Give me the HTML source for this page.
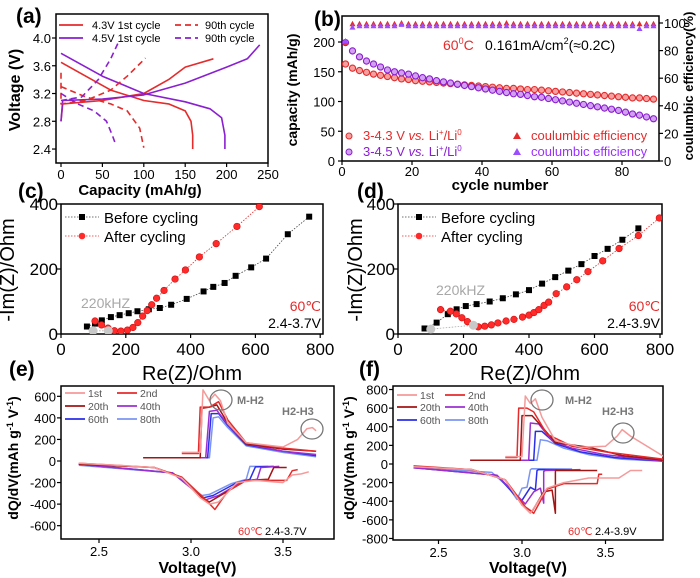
<!DOCTYPE html>
<html><head><meta charset="utf-8"><style>
html,body{margin:0;padding:0;background:#fff;}
svg{display:block;font-family:"Liberation Sans",Arial,sans-serif;}
</style></head><body>
<svg id="fig" width="700" height="578" viewBox="0 0 700 578" xmlns="http://www.w3.org/2000/svg">
<defs>
<clipPath id="clipA"><rect x="56" y="14" width="212" height="149"/></clipPath>
<clipPath id="clipB"><rect x="342" y="16" width="317" height="145"/></clipPath>
<clipPath id="clipC"><rect x="61" y="204" width="262" height="130"/></clipPath>
<clipPath id="clipD"><rect x="398" y="204" width="264" height="130"/></clipPath>
<clipPath id="clipE"><rect x="61" y="386" width="273" height="153"/></clipPath>
<clipPath id="clipF"><rect x="393" y="386" width="270" height="154"/></clipPath>
</defs>
</svg>
<script>
// ---------- data ----------
// panel (a): [capacity mAh/g, voltage V]
const a43FirstCharge=[[0,2.8],[2,3.05],[50,3.1],[100,3.2],[130,3.4],[150,3.58],[184,3.7]];
const a43FirstDischarge=[[0,3.65],[30,3.45],[60,3.25],[100,3.1],[130,3.05],[150,2.95],[157,2.8],[159,2.6],[159,2.4]];
const a45FirstCharge=[[0,2.8],[2,3.1],[50,3.12],[100,3.18],[150,3.35],[200,3.58],[225,3.7],[240,3.9]];
const a45FirstDischarge=[[0,3.78],[50,3.45],[100,3.2],[150,3.08],[180,2.98],[194,2.85],[198,2.6],[198,2.4]];
const a43NinetyCharge=[[0,3.5],[0,3.05],[30,3.1],[60,3.25],[80,3.45],[102,3.71]];
const a43NinetyDischarge=[[0,3.3],[30,3.15],[60,3.05],[80,2.95],[95,2.7],[100,2.42]];
const a45NinetyCharge=[[0,3.1],[25,3.15],[45,3.4],[60,3.7],[69,3.93]];
const a45NinetyDischarge=[[0,3.2],[20,3.05],[40,2.95],[55,2.8],[62,2.6],[65,2.5]];
const aXTicks=[0,50,100,150,200,250];
const aYTicks=[2.4,2.8,3.2,3.6,4.0];
// panel (b): every second cycle
const bCycles=[1,3,5,7,9,11,13,15,17,19,21,23,25,27,29,31,33,35,37,39,41,43,45,47,49,51,53,55,57,59,61,63,65,67,69,71,73,75,77,79,81,83,85,87,89];
const bCap43=[163,156,152,149,146,144,142,140,138,137,135,134,133,132,131,130,129,128,127,126,125,124,123,122,122,121,120,120,119,118,117,116,115,114,113,112,111,110,109,108,107,106,106,105,104];
const bCap45=[199,185,175,168,163,158,153,150,148,146,143,140,138,135,133,131,129,127,125,123,121,119,117,115,113,112,110,108,107,105,103,101,99,97,95,93,91,89,87,85,82,79,77,74,71];
const bEff43=[86,99.5,99.5,99.5,99.5,99.5,99.5,99.5,100,99.5,99.5,99.5,99.5,99.5,99.5,99.5,99.5,99.5,99.5,99.5,99.5,99.5,99.5,100,99.5,99.5,99.5,99.5,99.5,99.5,99.5,99.5,99.5,99.5,99.5,99.5,99.5,99.5,99.5,99.5,99.5,99.5,99.5,99.5,99.5];
const bEff45=[87,97,98,98,98,98,98,98,99,98,98,98,98,98,98,98,98,98,98,98,98,98,98,98,98,98,98,98,98,98,98,98,98,98,98,98,98,98,98,98,98,98,96,98,98];
const bXTicks=[0,20,40,60,80];
const bYTicks=[0,50,100,150,200];
const bY2Ticks=[0,20,40,60,80,100];
// panel (c): [Re Ohm, -Im Ohm]
const cBefore=[[80,23],[105,32],[126,42],[154,52],[181,58],[209,64],[236,70],[271,76],[305,80],[340,90],[388,108],[440,131],[470,145],[505,157],[539,179],[587,205],[633,232],[700,307],[766,361]];
const cAfter=[[105,40],[125,28],[145,18],[165,10],[185,9],[205,12],[222,20],[237,35],[252,55],[266,72],[280,90],[295,110],[318,134],[352,169],[384,197],[427,237],[479,278],[543,331],[612,392]];
const cHF=[[99,10],[146,10]];
// panel (d)
const dBefore=[[81,17],[118,35],[152,61],[179,76],[207,86],[240,92],[280,100],[320,110],[360,122],[400,135],[440,155],[480,175],[520,195],[560,215],[600,240],[640,262],[685,290],[734,325]];
const dAfter=[[130,75],[160,70],[178,62],[195,50],[212,38],[228,28],[245,22],[265,24],[285,28],[305,34],[330,40],[354,45],[380,52],[400,58],[415,66],[430,75],[446,88],[460,98],[483,124],[515,145],[546,167],[580,192],[625,225],[675,263],[734,303],[798,357]];
const dHF=[[100,15],[230,27]];
const czXTicks=[0,200,400,600,800];
const czYTicks=[0,200,400];
// panel (e): [V, dQ/dV]
const cycleNames=['1st','2nd','20th','40th','60th','80th'];
const eCharge=[
 [[2.95,80],[3.05,80],[3.065,660],[3.1,560],[3.13,620],[3.16,560],[3.2,350],[3.3,170],[3.5,130],[3.58,200],[3.63,300],[3.66,310],[3.68,280]],
 [[2.95,70],[3.04,70],[3.05,500],[3.1,500],[3.15,550],[3.2,380],[3.3,170],[3.5,120],[3.68,90]],
 [[2.74,30],[3.05,30],[3.06,490],[3.1,500],[3.14,520],[3.2,350],[3.3,160],[3.5,110],[3.68,90]],
 [[2.74,30],[3.08,30],[3.1,460],[3.14,470],[3.2,340],[3.3,160],[3.5,90],[3.68,60]],
 [[2.78,30],[3.09,30],[3.11,440],[3.15,440],[3.2,330],[3.3,150],[3.5,90],[3.68,50]],
 [[2.78,30],[3.1,30],[3.12,400],[3.15,410],[3.2,310],[3.3,140],[3.5,80],[3.68,40]]];
const eDischarge=[
 [[3.64,-100],[3.6,-120],[3.55,-130],[3.5,-200],[3.35,-180],[3.25,-200],[3.15,-380],[3.1,-400],[3.05,-340],[2.95,-160],[2.8,-60],[2.6,-40],[2.39,-20]],
 [[3.58,-80],[3.55,-90],[3.52,-180],[3.3,-180],[3.2,-280],[3.13,-450],[3.08,-360],[2.95,-150],[2.8,-60],[2.39,-20]],
 [[3.52,-60],[3.45,-60],[3.42,-170],[3.3,-180],[3.18,-300],[3.1,-380],[3.05,-330],[2.95,-150],[2.8,-60],[2.39,-30]],
 [[3.48,-50],[3.38,-60],[3.36,-170],[3.28,-190],[3.15,-320],[3.08,-360],[3.0,-250],[2.9,-110],[2.39,-30]],
 [[3.45,-50],[3.35,-55],[3.32,-170],[3.25,-200],[3.12,-320],[3.07,-340],[3.0,-250],[2.9,-110],[2.39,-30]],
 [[3.42,-50],[3.32,-50],[3.3,-170],[3.22,-210],[3.1,-310],[3.06,-320],[3.0,-250],[2.9,-110],[2.39,-40]]];
// panel (f)
const fCharge=[
 [[2.9,80],[3.0,80],[3.02,730],[3.05,650],[3.08,700],[3.12,500],[3.2,250],[3.35,180],[3.5,190],[3.57,300],[3.6,370],[3.65,300],[3.85,80]],
 [[2.9,70],[2.97,70],[2.98,600],[3.03,600],[3.07,560],[3.15,320],[3.3,190],[3.5,130],[3.85,50]],
 [[2.69,40],[2.99,40],[3.0,520],[3.06,520],[3.12,400],[3.2,230],[3.4,180],[3.6,90],[3.85,40]],
 [[2.69,40],[3.04,40],[3.05,440],[3.1,430],[3.18,250],[3.3,170],[3.5,100],[3.85,30]],
 [[2.75,40],[3.07,40],[3.08,350],[3.12,350],[3.2,220],[3.35,130],[3.55,70],[3.85,30]],
 [[2.75,40],[3.09,40],[3.11,260],[3.15,250],[3.25,170],[3.4,100],[3.6,50],[3.85,30]]];
const fDischarge=[
 [[3.72,-70],[3.65,-70],[3.58,-150],[3.4,-150],[3.25,-200],[3.15,-260],[3.05,-530],[3.0,-440],[2.9,-170],[2.7,-60],[2.35,-30]],
 [[3.48,-110],[3.46,-110],[3.45,-210],[3.25,-210],[3.15,-270],[3.07,-530],[3.02,-460],[2.9,-170],[2.7,-60],[2.35,-20]],
 [[3.45,-70],[3.2,-70],[3.2,-530],[3.18,-280],[3.13,-300],[3.06,-510],[3.0,-440],[2.9,-170],[2.7,-60],[2.35,-30]],
 [[3.35,-60],[3.14,-70],[3.13,-80],[3.13,-420],[3.11,-260],[3.07,-300],[3.02,-430],[2.95,-300],[2.85,-120],[2.35,-40]],
 [[3.3,-60],[3.1,-60],[3.09,-70],[3.08,-280],[3.05,-250],[3.0,-390],[2.95,-320],[2.85,-120],[2.35,-40]],
 [[3.3,-55],[3.06,-50],[3.05,-60],[3.03,-250],[3.0,-260],[2.97,-380],[2.92,-250],[2.82,-90],[2.35,-40]]];
const cvXTicks=[2.5,3.0,3.5];
const eYTicks=[-600,-400,-200,0,200,400,600];
const fYTicks=[-800,-600,-400,-200,0,200,400,600,800];
const cycleColors=['#f59a9a','#e52b2b','#a31515','#9b30d0','#2a2ee8','#7b95f2'];

// ---------- helpers ----------
const NS='http://www.w3.org/2000/svg';
const svg=document.getElementById('fig');
function mk(tag,attrs,parent){const e=document.createElementNS(NS,tag);for(const k in attrs)e.setAttribute(k,attrs[k]);(parent||svg).appendChild(e);return e;}
function grp(name,clip){const g=mk('g',clip?{'clip-path':'url(#'+clip+')'}:{});


return g;}
function line(pts,sx,sy,style,parent,name){const e=mk('polyline',Object.assign({points:pts.map(p=>sx(p[0]).toFixed(1)+','+sy(p[1]).toFixed(1)).join(' '),fill:'none','stroke-linejoin':'round'},style),parent);


return e;}
function txt(x,y,s,style,parent,name){const e=mk('text',Object.assign({x:x,y:y},style),parent);e.textContent=s;


return e;}
function frame(x,y,w,h,name){const r=mk('rect',{x:x,y:y,width:w,height:h,fill:'none',stroke:'#000','stroke-width':1.5});

}
function tick(x1,y1,x2,y2,name){const l=mk('line',{x1:x1,y1:y1,x2:x2,y2:y2,stroke:'#000','stroke-width':1.2});

}
function vtext(x,y,s,style,name){const e=txt(0,0,s,Object.assign({'text-anchor':'middle',transform:'translate('+x+','+y+') rotate(-90)'},style),null,name);return e;}

// ---------- panel (a) ----------
const ax=c=>61+c*0.828, ay=v=>38+(4.0-v)*69.4;
txt(16,23,'(a)',{'font-size':21,'font-weight':'bold'},null,'panel-label-a');
frame(56,14,212,149,'plot-frame-a');
aXTicks.forEach(t=>{tick(ax(t),163,ax(t),167,'x-tick-a');txt(ax(t),179,String(t),{'font-size':13,'text-anchor':'middle'},null,'x-tick-label-a');});
aYTicks.forEach(t=>{tick(52,ay(t),56,ay(t),'y-tick-a');txt(51,ay(t)+5,t.toFixed(1),{'font-size':13,'text-anchor':'end'},null,'y-tick-label-a');});
txt(140,195,'Capacity (mAh/g)',{'font-size':15,'font-weight':'bold','text-anchor':'middle'},null,'x-axis-title-a');
vtext(20,90,'Voltage (V)',{'font-size':16,'font-weight':'bold'},'y-axis-title-a');
const gA=grp('series-a','clipA');
line(a43FirstCharge,ax,ay,{stroke:'#e52b2b','stroke-width':1.6},gA,'series-4-3v-1st-charge');
line(a43FirstDischarge,ax,ay,{stroke:'#e52b2b','stroke-width':1.6},gA,'series-4-3v-1st-discharge');
line(a45FirstCharge,ax,ay,{stroke:'#8a1fd0','stroke-width':1.6},gA,'series-4-5v-1st-charge');
line(a45FirstDischarge,ax,ay,{stroke:'#8a1fd0','stroke-width':1.6},gA,'series-4-5v-1st-discharge');
line(a43NinetyCharge,ax,ay,{stroke:'#e52b2b','stroke-width':1.6,'stroke-dasharray':'6,4'},gA,'series-4-3v-90th-charge');
line(a43NinetyDischarge,ax,ay,{stroke:'#e52b2b','stroke-width':1.6,'stroke-dasharray':'6,4'},gA,'series-4-3v-90th-discharge');
line(a45NinetyCharge,ax,ay,{stroke:'#8a1fd0','stroke-width':1.6,'stroke-dasharray':'6,4'},gA,'series-4-5v-90th-charge');
line(a45NinetyDischarge,ax,ay,{stroke:'#8a1fd0','stroke-width':1.6,'stroke-dasharray':'6,4'},gA,'series-4-5v-90th-discharge');
[[25,'#e52b2b','4.3V 1st cycle'],[38,'#8a1fd0','4.5V 1st cycle']].forEach(r=>{
 const l1=mk('line',{x1:59,y1:r[0],x2:83,y2:r[0],stroke:r[1],'stroke-width':1.8});
 
 
 txt(92,r[0]+4,r[2],{'font-size':11},null,'legend-entry-a');
 const l2=mk('line',{x1:175,y1:r[0],x2:198,y2:r[0],stroke:r[1],'stroke-width':1.8,'stroke-dasharray':'6,4'});
 
 
 txt(205,r[0]+4,'90th cycle',{'font-size':11},null,'legend-entry-a-90th');
});

// ---------- panel (b) ----------
const bx=n=>342+n*3.5, by=c=>161-c*0.595, by2=e=>161-e*1.38;
txt(314,26,'(b)',{'font-size':21,'font-weight':'bold'},null,'panel-label-b');
frame(342,16,317,145,'plot-frame-b');
bXTicks.forEach(t=>{tick(bx(t),161,bx(t),165,'x-tick-b');txt(bx(t),176,String(t),{'font-size':13,'text-anchor':'middle'},null,'x-tick-label-b');});
bYTicks.forEach(t=>{tick(338,by(t),342,by(t),'y-tick-b');txt(335,by(t)+5,String(t),{'font-size':13,'text-anchor':'end'},null,'y-tick-label-b');});
bY2Ticks.forEach(t=>{tick(659,by2(t),663,by2(t),'y2-tick-b');txt(664,by2(t)+5,String(t),{'font-size':13},null,'y2-tick-label-b');});
txt(500,190,'cycle number',{'font-size':15,'font-weight':'bold','text-anchor':'middle'},null,'x-axis-title-b');
vtext(297,90,'capacity (mAh/g)',{'font-size':14,'font-weight':'bold'},'y-axis-title-b');
vtext(693,86,'coulumbic efficiency(%)',{'font-size':13,'font-weight':'bold'},'y2-axis-title-b');
const gB=grp('series-b','clipB');
bCycles.forEach((n,i)=>{
 const c1=mk('circle',{cx:bx(n),cy:by(bCap43[i]),r:3.1,fill:'#f4a0a0',stroke:'#e52b2b','stroke-width':1.1},gB);
 
 
 const c2=mk('circle',{cx:bx(n),cy:by(bCap45[i]),r:3.1,fill:'#d3a0f0',stroke:'#8a1fd0','stroke-width':1.1},gB);
 
 
 const tx=bx(n),t1=by2(bEff43[i]),t2=by2(bEff45[i]);
 const p1=mk('polygon',{points:(tx-3)+','+(t1+2.5)+' '+(tx+3)+','+(t1+2.5)+' '+tx+','+(t1-3)},gB);
 p1.setAttribute('fill','#e52b2b');
 
 
 const p2=mk('polygon',{points:(tx-3)+','+(t2+2.5)+' '+(tx+3)+','+(t2+2.5)+' '+tx+','+(t2-3)},gB);
 p2.setAttribute('fill','#9b4dff');
 
 
});
const tb=txt(443,50,'60',{'font-size':14,fill:'#e52b2b'},null,'annotation-temperature-b');
const tbs=mk('tspan',{'font-size':9,dy:-6},tb);tbs.textContent='0';
const tbc=mk('tspan',{dy:6},tb);tbc.textContent='C';
const tc=txt(485,50,'0.161mA/cm',{'font-size':14},null,'annotation-current-b');
const tcs=mk('tspan',{'font-size':9,dy:-6},tc);tcs.textContent='2';
const tcc=mk('tspan',{dy:6},tc);tcc.textContent='(≈0.2C)';
[[140,'#e52b2b','#f4a0a0','3-4.3 V '],[156,'#8a1fd0','#d3a0f0','3-4.5 V ']].forEach(r=>{
 const c=mk('circle',{cx:349,cy:r[0]-4,r:3,fill:r[2],stroke:r[1],'stroke-width':1});
 
 
 const t=txt(363,r[0],r[3],{'font-size':13,fill:r[1]},null,'legend-entry-b');
 const i1=mk('tspan',{'font-style':'italic'},t);i1.textContent='vs.';
 const i2=mk('tspan',{},t);i2.textContent=' Li';
 const i3=mk('tspan',{'font-size':8,dy:-5},t);i3.textContent='+';
 const i4=mk('tspan',{dy:5},t);i4.textContent='/Li';
 const i5=mk('tspan',{'font-size':8,dy:-5},t);i5.textContent='0';
 const p=mk('polygon',{points:'513,'+(r[0]-1)+' 521,'+(r[0]-1)+' 517,'+(r[0]-8),fill:r[1]==='#e52b2b'?'#e52b2b':'#9b4dff'});
 
 
 txt(531,r[0],'coulumbic  efficiency',{'font-size':13,fill:r[1]==='#e52b2b'?'#e52b2b':'#9b30ff'},null,'legend-entry-efficiency-b');
});

// ---------- panels (c) and (d) ----------
const cx=r=>61+r*0.324, cyy=i=>334-i*0.325;
const dx=r=>398+r*0.3275;
function eisPanel(id,sx,left,right,before,after,hf,label,labelX,titleX,volt,hfLabelX,hfLabelY){
 txt(labelX,198,label,{'font-size':21,'font-weight':'bold'},null,'panel-label-'+id);
 frame(left,204,right-left,130,'plot-frame-'+id);
 czXTicks.forEach(t=>{tick(sx(t),334,sx(t),338,'x-tick-'+id);txt(sx(t),355,String(t),{'font-size':17,'text-anchor':'middle'},null,'x-tick-label-'+id);});
 czYTicks.forEach(t=>{tick(left-4,cyy(t),left,cyy(t),'y-tick-'+id);txt(left-3,cyy(t)+6,String(t),{'font-size':17,'text-anchor':'end'},null,'y-tick-label-'+id);});
 txt((left+right)/2,380,'Re(Z)/Ohm',{'font-size':20,'text-anchor':'middle'},null,'x-axis-title-'+id);
 vtext(titleX,270,'-Im(Z)/Ohm',{'font-size':20},'y-axis-title-'+id);
 const g=grp('series-'+id,id==='c'?'clipC':'clipD');
 line(before,sx,cyy,{stroke:'#444','stroke-width':0.8,'stroke-dasharray':'1.5,1.5'},g,'line-before-cycling-'+id);
 line(after,sx,cyy,{stroke:'#e52b2b','stroke-width':0.8,'stroke-dasharray':'1.5,1.5'},g,'line-after-cycling-'+id);
 line(hf,sx,cyy,{stroke:'#aaa','stroke-width':0.8,'stroke-dasharray':'1.5,1.5'},g,'line-high-frequency-'+id);
 before.forEach(p=>{const s=mk('rect',{x:sx(p[0])-3,y:cyy(p[1])-3,width:6,height:6,fill:'#000'},g);
  
  });
 after.forEach(p=>{const c=mk('circle',{cx:sx(p[0]),cy:cyy(p[1]),r:3.3,fill:'#ff2a2a',stroke:'#d01010','stroke-width':0.6},g);
  
  });
 hf.forEach(p=>{const c=mk('circle',{cx:sx(p[0]),cy:cyy(p[1]),r:4.5,fill:'#c8c8c8'},g);
  
  });
 const l1=mk('line',{x1:left+4,y1:217,x2:left+38,y2:217,stroke:'#444','stroke-width':0.8,'stroke-dasharray':'1.5,1.5'});
 
 
 const s=mk('rect',{x:left+18,y:214,width:6,height:6,fill:'#000'});
 
 
 txt(left+43,223,'Before cycling',{'font-size':15},null,'legend-entry-before-'+id);
 const l2=mk('line',{x1:left+4,y1:236,x2:left+38,y2:236,stroke:'#e52b2b','stroke-width':0.8,'stroke-dasharray':'1.5,1.5'});
 
 
 const c=mk('circle',{cx:left+21,cy:236,r:3.3,fill:'#ff2a2a'});
 
 
 txt(left+43,242,'After cycling',{'font-size':15},null,'legend-entry-after-'+id);
 txt(hfLabelX,hfLabelY,'220kHZ',{'font-size':14,fill:'#a8a8a8'},null,'annotation-220khz-'+id);
 txt(right-2,311,'60℃',{'font-size':14,fill:'#e52b2b','text-anchor':'end'},null,'annotation-temperature-'+id);
 txt(right-2,328,volt,{'font-size':14,'text-anchor':'end'},null,'annotation-voltage-'+id);
}
eisPanel('c',cx,61,323,cBefore,cAfter,cHF,'(c)',18,14,'2.4-3.7V',81,308);
eisPanel('d',dx,398,662,dBefore,dAfter,dHF,'(d)',357,362,'2.4-3.9V',436,295);

// ---------- panels (e) and (f) ----------
const ex=v=>191+(v-3)*184, ey=q=>461-q*0.1078;
const fx=v=>522+(v-3)*167, fy=q=>464-q*0.0931;
function cvPanel(id,sx,sy,left,top,right,bottom,yTicks,charge,dis,label,labelX,titleX,volt,legCols,legRows,ann){
 txt(labelX,376,label,{'font-size':21,'font-weight':'bold'},null,'panel-label-'+id);
 frame(left,top,right-left,bottom-top,'plot-frame-'+id);
 cvXTicks.forEach(t=>{tick(sx(t),bottom,sx(t),bottom+4,'x-tick-'+id);txt(sx(t),bottom+17,t.toFixed(1),{'font-size':13,'text-anchor':'middle'},null,'x-tick-label-'+id);});
 yTicks.forEach(t=>{tick(left-4,sy(t),left,sy(t),'y-tick-'+id);txt(left-5,sy(t)+5,String(t),{'font-size':13,'text-anchor':'end'},null,'y-tick-label-'+id);});
 txt((left+right)/2,573,'Voltage(V)',{'font-size':16,'font-weight':'bold','text-anchor':'middle'},null,'x-axis-title-'+id);
 const vt=vtext(titleX,458,'dQ/dV(mAh g',{'font-size':14,'font-weight':'bold'},'y-axis-title-'+id);
 const s1=mk('tspan',{'font-size':9,dy:-5},vt);s1.textContent='-1';
 const s2=mk('tspan',{dy:5},vt);s2.textContent=' V';
 const s3=mk('tspan',{'font-size':9,dy:-5},vt);s3.textContent='-1';
 const s4=mk('tspan',{dy:5},vt);s4.textContent=')';
 const g=grp('series-'+id,id==='e'?'clipE':'clipF');
 for(let k=charge.length-1;k>=0;k--){
  line(charge[k],sx,sy,{stroke:cycleColors[k],'stroke-width':1.5},g,'curve-charge-'+cycleNames[k]);
  line(dis[k],sx,sy,{stroke:cycleColors[k],'stroke-width':1.5},g,'curve-discharge-'+cycleNames[k]);
 }
 cycleNames.forEach((n,k)=>{
  const col=k%2, row=Math.floor(k/2);
  const lx=legCols[col], yy=legRows[row];
  const l=mk('line',{x1:lx,y1:yy,x2:lx+20,y2:yy,stroke:cycleColors[k],'stroke-width':1.8});
  
  
  txt(lx+23,yy+4,n,{'font-size':10.5,fill:'#555'},null,'legend-entry-'+id);
 });
 const e1=mk('ellipse',{cx:ann[0],cy:ann[1],rx:11,ry:10,fill:'none',stroke:'#777','stroke-width':1.3});
 
 
 txt(ann[7],ann[1]+4,'M-H2',{'font-size':11,'font-weight':'bold',fill:'#777'},null,'annotation-m-h2-'+id);
 const e2=mk('ellipse',{cx:ann[2],cy:ann[3],rx:11,ry:10,fill:'none',stroke:'#777','stroke-width':1.3});
 
 
 txt(ann[4],ann[5],'H2-H3',{'font-size':11,'font-weight':'bold',fill:'#777'},null,'annotation-h2-h3-'+id);
 txt(ann[6],535,'60℃',{'font-size':11,fill:'#e52b2b'},null,'annotation-temperature-'+id);
 txt(ann[6]+27,535,volt,{'font-size':11},null,'annotation-voltage-'+id);
}
cvPanel('e',ex,ey,61,386,334,539,eYTicks,eCharge,eDischarge,'(e)',9,18,'2.4-3.7V',[65,117],[393,406,419],[221,400,312,429,282,415,238,237]);
cvPanel('f',fx,fy,393,386,663,540,fYTicks,fCharge,fDischarge,'(f)',359,354,'2.4-3.9V',[397,445],[395,407,420],[542,400,623,433,602,415,568,565]);
</script>
</body></html>
